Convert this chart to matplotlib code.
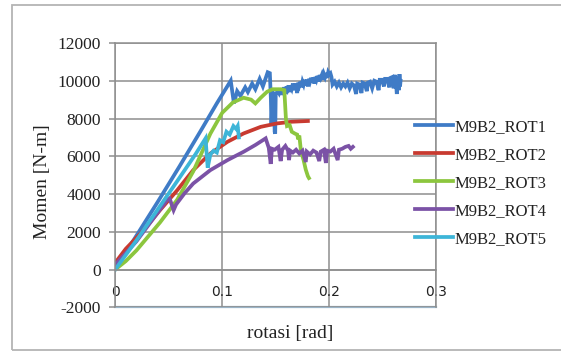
import matplotlib
matplotlib.use('Agg')
import matplotlib.pyplot as plt
from matplotlib.patches import Rectangle

plt.rcParams['axes.unicode_minus'] = False

# values (rotasi [rad], momen [N-m])
rot1_x = [0, 0.02, 0.04, 0.06, 0.08, 0.095, 0.108, 0.111, 0.114, 0.117, 0.1215, 0.124,
          0.128, 0.131, 0.135, 0.138, 0.1425, 0.1445, 0.1455, 0.146, 0.147, 0.1485, 0.149,
          0.1495, 0.150, 0.152, 0.153, 0.154, 0.155, 0.156, 0.157, 0.158, 0.159, 0.160,
          0.161, 0.162, 0.163, 0.164, 0.165, 0.166, 0.167, 0.168, 0.169, 0.170, 0.171,
          0.172, 0.173, 0.174, 0.175, 0.176, 0.177, 0.178, 0.179, 0.180, 0.181, 0.182,
          0.183, 0.184, 0.185, 0.186, 0.187, 0.188, 0.189, 0.190, 0.191, 0.192, 0.193,
          0.194, 0.195, 0.196, 0.197, 0.198, 0.199, 0.200, 0.201, 0.202, 0.203, 0.205,
          0.207, 0.209, 0.211, 0.213, 0.215, 0.217, 0.219, 0.221, 0.223, 0.225, 0.226,
          0.228, 0.230, 0.231, 0.233, 0.235, 0.236, 0.238, 0.240, 0.242, 0.244, 0.246,
          0.247, 0.249, 0.251, 0.252, 0.254, 0.256, 0.257, 0.259, 0.260, 0.261, 0.262,
          0.263, 0.264, 0.265, 0.2655, 0.266, 0.2665]
rot1_y = [0, 1800, 3600, 5450, 7350, 8800, 10000, 8800, 9450, 9200, 9650, 9400,
          9850, 9550, 10100, 9700, 10450, 10400, 9000, 7600, 9400, 9300, 7300,
          7200, 9300, 9450, 9350, 9550, 9250, 9600, 9450, 9650, 9300, 9700,
          9550, 9750, 9400, 9750, 9600, 9850, 9500, 9850, 9700, 9350, 9900,
          9750, 9950, 9650, 9950, 9800, 10050, 9750, 10050, 9700, 10100, 9950,
          10150, 9900, 10150, 9850, 10200, 10050, 10250, 9950, 10300, 10150, 10300,
          10050, 10350, 10200, 10400, 10150, 10450, 10350, 10400, 10200, 9800, 9950,
          9700, 9900, 9650, 9850, 9700, 9900, 9600, 9850, 9750, 9300, 9850,
          9800, 9350, 9900, 9850, 9450, 9900, 9950, 9600, 10000, 9950, 9500,
          10050, 10050, 9700, 10100, 10100, 9650, 10150, 10200, 9600, 10300, 10100,
          9300, 10200, 9500, 10350, 9700, 10000]

rot2_x = [0, 0.01, 0.0265, 0.042, 0.058, 0.073, 0.089, 0.105, 0.120, 0.136, 0.151, 0.165, 0.180]
rot2_y = [350, 1100, 2080, 3150, 4200, 5270, 6150, 6770, 7210, 7560, 7740, 7830, 7870]

rot3_x = [0, 0.010, 0.020, 0.042, 0.058, 0.073, 0.089, 0.100, 0.110, 0.120, 0.127, 0.131,
          0.136, 0.142, 0.147, 0.155, 0.158, 0.1595, 0.1605, 0.163, 0.165, 0.168, 0.170,
          0.171, 0.172, 0.1735, 0.176, 0.178, 0.180, 0.181]
rot3_y = [0, 450, 1020, 2500, 3700, 5200, 7200, 8300, 8850, 9100, 9000, 8800,
          9100, 9420, 9550, 9550, 9500, 8000, 7600, 7650, 7300, 7200, 7150,
          6900, 7100, 6300, 5800, 5300, 4950, 4850]

rot4_x = [0, 0.02, 0.035, 0.0484, 0.051, 0.0547, 0.057, 0.065, 0.073, 0.089, 0.105, 0.120,
          0.131, 0.1406, 0.1435, 0.1453, 0.1465, 0.149, 0.1525, 0.1546, 0.156, 0.159,
          0.1615, 0.1624, 0.1635, 0.166, 0.169, 0.172, 0.175, 0.178, 0.179, 0.182, 0.185,
          0.188, 0.1906, 0.192, 0.195, 0.1968, 0.198, 0.201, 0.204, 0.2078, 0.209, 0.212,
          0.215, 0.218, 0.220, 0.222]
rot4_y = [250, 1500, 2650, 3680, 3770, 3150, 3450, 4050, 4560, 5270, 5800, 6240,
          6600, 6950, 6450, 5600, 6400, 6350, 6500, 5750, 6350, 6550,
          6300, 5800, 6300, 6200, 6350, 6150, 6300, 5700, 6250, 6100, 6300,
          6200, 5750, 6250, 6350, 5650, 6300, 6250, 6400, 5800, 6350, 6400,
          6500, 6550, 6400, 6500]

rot5_x = [0, 0.02, 0.04, 0.06, 0.075, 0.0845, 0.0865, 0.089, 0.092, 0.095, 0.098, 0.101,
          0.104, 0.107, 0.1105, 0.113, 0.1145, 0.1156]
rot5_y = [0, 1550, 3200, 4850, 6100, 6950, 5400, 6100, 6300, 6200, 6850, 6750,
          7300, 7150, 7600, 7450, 7600, 7000]

names = ['M9B2_ROT1', 'M9B2_ROT2', 'M9B2_ROT3', 'M9B2_ROT4', 'M9B2_ROT5']
colors = ['#3f7bc6', '#c83a30', '#8cc63e', '#7b52a6', '#3db5d8']

xticks = [0, 0.1, 0.2, 0.3]
xticklabels = ['0', '0.1', '0.2', '0.3']
yticks = [-2000, 0, 2000, 4000, 6000, 8000, 10000, 12000]

fig = plt.figure(figsize=(5.61, 3.57), dpi=100)
ax = fig.add_axes([0.205, 0.1387, 0.573, 0.741])

series = [(rot1_x, rot1_y), (rot2_x, rot2_y), (rot3_x, rot3_y), (rot4_x, rot4_y), (rot5_x, rot5_y)]
for (xs, ys), nm, c in zip(series, names, colors):
    ax.plot(xs, ys, color=c, lw=2.7, label=nm, solid_joinstyle='miter')

ax.set_xlim(0, 0.3)
ax.set_ylim(-2000, 12000)
ax.set_xticks(xticks)
ax.set_xticklabels(xticklabels, family='Lato', fontsize=12)
ax.set_yticks(yticks)
for t in ax.get_yticklabels():
    t.set_family('Liberation Serif')
    t.set_fontsize(12.5)

gcol = '#8e8e8e'
ax.grid(True, color=gcol, lw=1.1)
ax.set_axisbelow(True)
ax.spines['bottom'].set_position(('data', 0))
for s in ['bottom', 'left', 'right', 'top']:
    ax.spines[s].set_color(gcol)
    ax.spines[s].set_linewidth(1.1)
ax.axhline(-2000, color='#9ab3c6', lw=1.6, clip_on=False, zorder=0.5)
ax.tick_params(axis='x', length=0, pad=11, colors='#222222')
ax.tick_params(axis='y', length=4, width=1.1, color=gcol, pad=6, labelcolor='#222222')

fig.text(0.075, 0.49, 'Momen [N-m]', rotation=90, ha='center', va='center',
         family='Liberation Serif', fontsize=14, color='#222222')
fig.text(0.518, 0.067, 'rotasi [rad]', ha='center', va='center',
         family='Liberation Serif', fontsize=14, color='#222222')

leg = ax.legend(loc='center left', bbox_to_anchor=(415 / 561, 1 - 183 / 357),
                bbox_transform=fig.transFigure, frameon=False, borderpad=0,
                borderaxespad=0, handlelength=2.3, handletextpad=0.05,
                labelspacing=0.72, prop={'family': 'Liberation Serif', 'size': 12})
for t in leg.get_texts():
    t.set_color('#222222')

fig.patches.append(Rectangle((12 / 561, 1 - 350 / 357), 1.0, 345 / 357, transform=fig.transFigure,
                             fill=False, edgecolor='#b4b4b4', lw=1.3))

fig.savefig('out.png', dpi=100)
